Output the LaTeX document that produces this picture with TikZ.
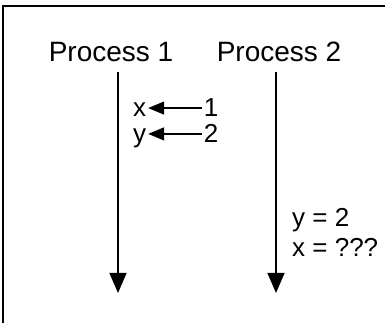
\documentclass[tikz,border=0pt]{standalone}
\usepackage{fontspec}
\setmainfont{Liberation Sans}
\usetikzlibrary{positioning,arrows.meta}

\tikzset{
    title/.style={font=\fontsize{28}{31}\selectfont, anchor=base},
    val/.style={font=\fontsize{26}{29}\selectfont, anchor=base, inner sep=2pt},
    timeline/.style={line width=1.3pt, -{Triangle[length=20pt,width=17pt]}},
    assign/.style={line width=1.3pt, -{Triangle[length=16pt,width=13pt]}}
}

\begin{document}
\begin{tikzpicture}[x=1pt,y=1pt]
        \useasboundingbox (0,0) rectangle (389,323);
        % frame (top and left edge only)
        \draw[line width=1.4pt] (385,317) -- (3,317) -- (3,0);
        % Process 1
        \node[title] (proc1) at (111,261) {Process 1};
        \coordinate (top1) at (118,251);
        \coordinate (end1) at (118,30);
        \draw[timeline] (top1) -- (end1);
        \node[val] (xvar) at (139.5,206) {x};
        \node[val] (one) at (211,206) {1};
        \node[val] (yvar) at (139.5,180) {y};
        \node[val] (two) at (211,180) {2};
        \draw[assign] (one.west) -- (one.west -| xvar.east);
        \draw[assign] (two.west) -- (two.west -| yvar.east);
        % Process 2
        \node[title] (proc2) at (279,261) {Process 2};
        \coordinate (top2) at (276,251);
        \coordinate (end2) at (276,30);
        \draw[timeline] (top2) -- (end2);
        \node[val, anchor=base west, inner sep=0pt] (ysee) at (292,96) {y = 2};
        \node[val, anchor=base west, inner sep=0pt] (xsee) at (292,66) {x = ???};
    \end{tikzpicture}
\end{document}
